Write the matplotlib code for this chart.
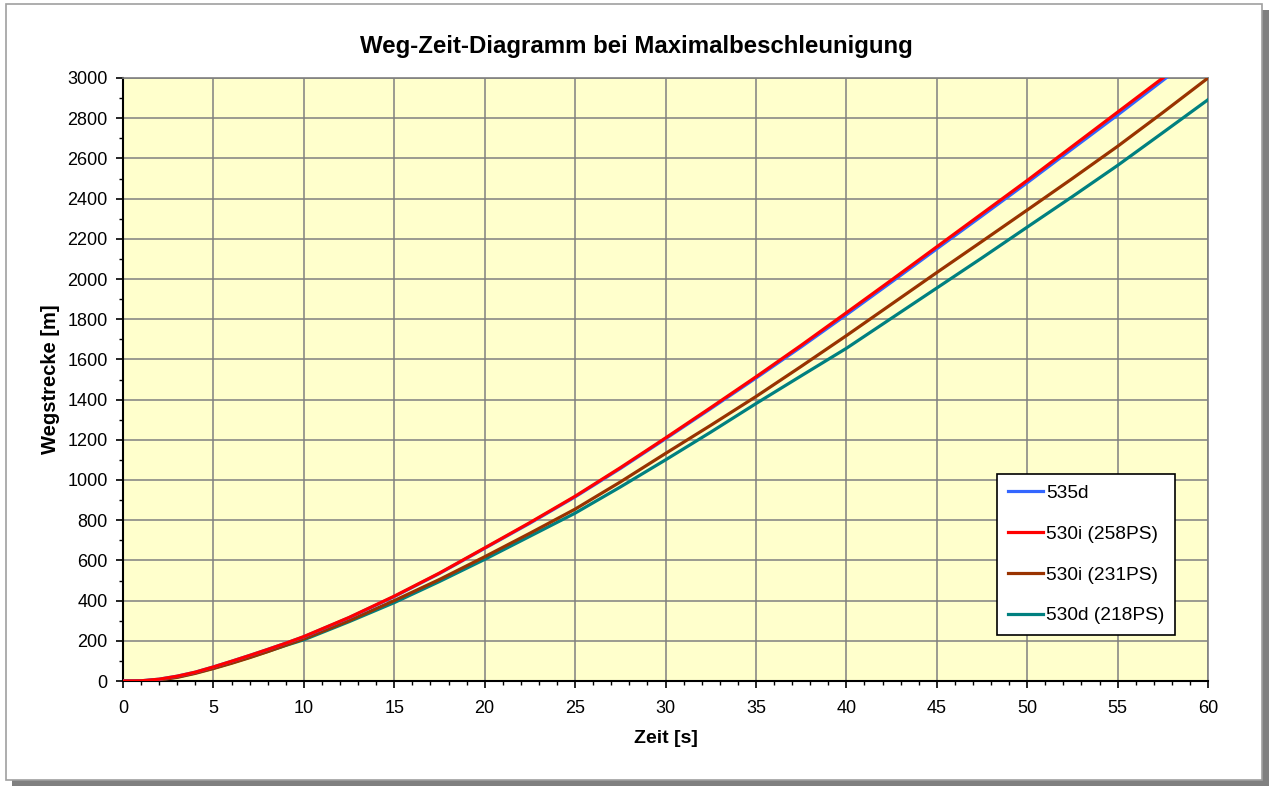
import matplotlib.pyplot as plt
from matplotlib.patches import Rectangle
from matplotlib.ticker import MultipleLocator

plt.rcParams['font.family'] = ['Liberation Sans', 'DejaVu Sans']

# Zeit [s]
t = [0, 1, 2, 3, 4, 5, 6, 7, 8, 9, 10, 12.5, 15, 17.5, 20, 22.5, 25, 27.5, 30,
     32.5, 35, 37.5, 40, 42.5, 45, 47.5, 50, 52.5, 55, 57.5, 60]

# Wegstrecke [m]
s_535d = [0, 1, 9, 24, 44, 70, 98, 127, 157, 188, 220, 315, 420, 535, 660, 785,
          916, 1057, 1205, 1355, 1507, 1662, 1822, 1985, 2150, 2314, 2479, 2648,
          2816, 2988, 3160]
s_530i_258 = [0, 1, 9, 24, 44, 70, 98, 127, 157, 188, 221, 316, 422, 537, 662, 788,
              919, 1061, 1209, 1360, 1513, 1670, 1832, 1995, 2160, 2325, 2490,
              2660, 2830, 3000, 3170]
s_530i_231 = [0, 0, 5, 18, 38, 62, 88, 116, 146, 178, 210, 300, 400, 505, 618, 735,
              855, 990, 1132, 1272, 1415, 1565, 1718, 1875, 2032, 2187, 2343,
              2500, 2660, 2828, 3000]
s_530d_218 = [0, 0, 6, 20, 40, 64, 90, 118, 147, 177, 205, 295, 390, 495, 605, 720,
              835, 965, 1100, 1238, 1380, 1518, 1655, 1805, 1955, 2105, 2258,
              2410, 2565, 2728, 2892]

fig = plt.figure(figsize=(12.69, 7.86), dpi=100)

# Rahmen mit Schatten
fig.patches.append(Rectangle((12 / 1269, 0), 1257 / 1269, 776 / 786, transform=fig.transFigure,
                             facecolor='#808080', edgecolor='none', zorder=-2))
fig.patches.append(Rectangle((6 / 1269, 6 / 786), 1256 / 1269, 776 / 786, transform=fig.transFigure,
                             facecolor='white', edgecolor='#a0a0a0', lw=1.2, zorder=-1))

ax = fig.add_axes([123 / 1269, 105 / 786, 1085 / 1269, 603 / 786])
ax.set_facecolor('#FFFFCC')

ax.plot(t, s_530d_218, color='#008080', lw=2.3, label='530d (218PS)', zorder=3)
ax.plot(t, s_530i_231, color='#993300', lw=2.3, label='530i (231PS)', zorder=4)
ax.plot(t, s_535d, color='#3366FF', lw=2.3, label='535d', zorder=5)
ax.plot(t, s_530i_258, color='#FF0000', lw=2.3, label='530i (258PS)', zorder=6)

ax.set_xlim(0, 60)
ax.set_ylim(0, 3000)
ax.xaxis.set_major_locator(MultipleLocator(5))
ax.xaxis.set_minor_locator(MultipleLocator(1))
ax.yaxis.set_major_locator(MultipleLocator(200))
ax.yaxis.set_minor_locator(MultipleLocator(100))
ax.tick_params(which='major', direction='out', length=5, width=1.2, labelsize=13)
ax.tick_params(axis='x', which='major', pad=9)
ax.tick_params(axis='y', which='major', pad=6)
ax.tick_params(which='minor', direction='out', length=3, width=1.0)
ax.grid(True, which='major', color='#808080', lw=1.1)
ax.set_axisbelow(True)

for side in ['top', 'right']:
    ax.spines[side].set_color('#808080')
    ax.spines[side].set_linewidth(1.2)
for side in ['left', 'bottom']:
    ax.spines[side].set_color('black')
    ax.spines[side].set_linewidth(1.5)

ax.set_xlabel('Zeit [s]', fontsize=14, fontweight='bold', labelpad=9)
ax.set_ylabel('Wegstrecke [m]', fontsize=14.5, fontweight='bold', labelpad=5)
fig.text(636 / 1269, 1 - 47 / 786, 'Weg-Zeit-Diagramm bei Maximalbeschleunigung',
         ha='center', va='center', fontsize=17.3, fontweight='bold')

h, l = ax.get_legend_handles_labels()
order = [2, 3, 1, 0]
leg = ax.legend([h[i] for i in order], [l[i] for i in order], loc='lower right',
                bbox_to_anchor=(1052 / 1085, 46 / 603), fontsize=13.8, fancybox=False,
                framealpha=1, edgecolor='black', handlelength=1.85, handletextpad=0.15,
                labelspacing=1.22, borderpad=0.55, borderaxespad=0)
leg.get_frame().set_linewidth(1.2)

plt.savefig('out.png', dpi=100)
